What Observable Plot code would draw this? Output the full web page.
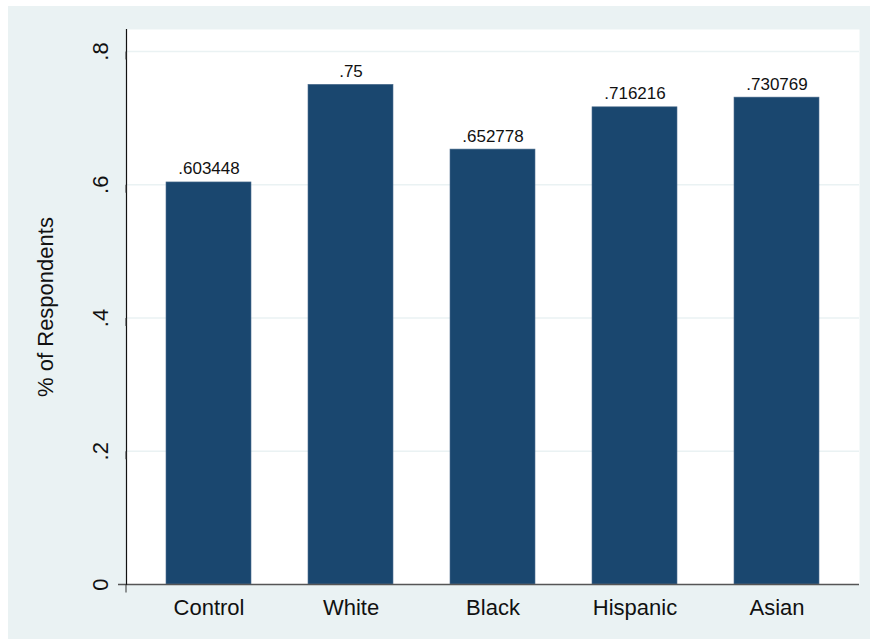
<!DOCTYPE html>
<html>
<head>
<meta charset="utf-8">
<script src="https://cdn.jsdelivr.net/npm/d3@7"></script>
<script src="https://cdn.jsdelivr.net/npm/@observablehq/plot@0.6"></script>
<style>
  html, body { margin: 0; padding: 0; background: #ffffff; }
  #chart { position: absolute; left: 8px; top: 6px; }
  #chart svg { background: #EAF2F3; display: block; }
</style>
</head>
<body>
<div id="chart"></div>
<script>
const categories = ["Control", "White", "Black", "Hispanic", "Asian"];
const values = [0.603448, 0.75, 0.652778, 0.716216, 0.730769];
const yTicks = [0, 0.2, 0.4, 0.6, 0.8];
const yTitle = "% of Respondents";

const data = categories.map((c, i) => ({category: c, value: values[i]}));
const fmt = d => d === 0 ? "0" : String(d).replace(/^0/, "");

const chart = Plot.plot({
  width: 862,
  height: 633,
  marginLeft: 118,
  marginRight: 11,
  marginTop: 23,
  marginBottom: 55,
  style: {fontFamily: "'Liberation Sans', Arial, sans-serif", background: "#EAF2F3"},
  x: {domain: categories, paddingInner: 0.404, paddingOuter: 0.274, label: null},
  y: {domain: [0, 0.833], label: null},
  marks: [
    Plot.frame({fill: "white", stroke: null}),
    Plot.gridY(yTicks.slice(1), {stroke: "#EAF2F3", strokeOpacity: 1, strokeWidth: 1.5}),
    Plot.barY(data, {x: "category", y: "value", fill: "#1A476F", stroke: "#4F6F8F", strokeWidth: 0.6}),
    Plot.text(data, {x: "category", y: "value", text: d => fmt(d.value), lineAnchor: "bottom", dy: -8, fontSize: 17, fill: "#111"}),
    Plot.ruleY([0], {stroke: "#555", strokeWidth: 1.5, insetLeft: -8}),
    Plot.frame({anchor: "left", stroke: "#111", strokeWidth: 1.2}),
    Plot.axisY(yTicks, {tickFormat: fmt, tickSize: 8, tickPadding: 18, rotate: -90, textAnchor: "middle", fontSize: 22, stroke: "#333", fill: "#111", label: null}),
    Plot.axisX({tickSize: 0, tickPadding: 15, fontSize: 22, fill: "#111", label: null}),
    Plot.text([yTitle], {frameAnchor: "left", dx: -81, rotate: -90, fontSize: 22, fill: "#111", textAnchor: "middle"})
  ]
});
document.getElementById("chart").appendChild(chart);
</script>
</body>
</html>
